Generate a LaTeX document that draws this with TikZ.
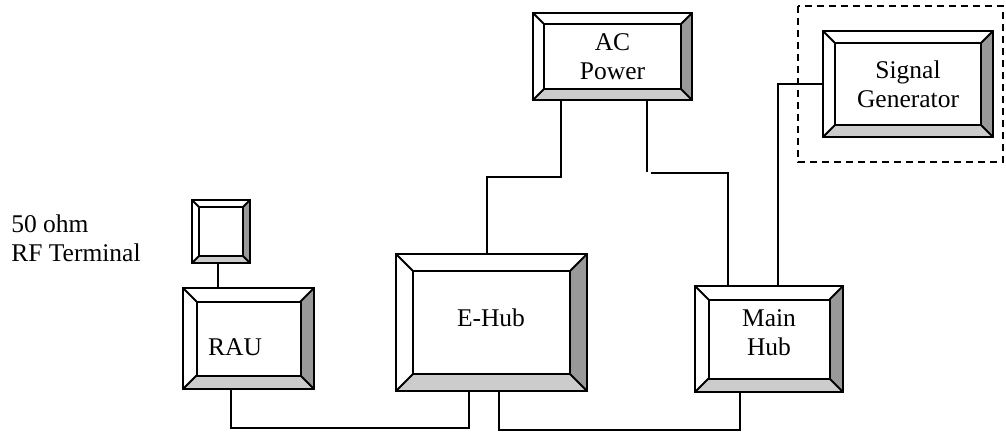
\documentclass[tikz,border=0pt]{standalone}
\usepackage{fontspec}
\setmainfont{Liberation Serif}
\usetikzlibrary{calc}

\definecolor{bevdark}{gray}{0.6}
\definecolor{bevlight}{gray}{0.8}

\tikzset{
	bevel/.store in=\bevelsz,
	bevel=12pt,
	bevelbox/.style={draw, line width=2pt, inner sep=0pt, outer sep=0pt,
		align=center,
		path picture={
			\path (path picture bounding box.north west) coordinate (bnw)
			      (path picture bounding box.north east) coordinate (bne)
			      (path picture bounding box.south east) coordinate (bse)
			      (path picture bounding box.south west) coordinate (bsw);
			\path ($(bnw)+(\bevelsz,-\bevelsz)$) coordinate (inw)
			      ($(bne)+(-\bevelsz,-\bevelsz)$) coordinate (ine)
			      ($(bse)+(-\bevelsz,\bevelsz)$) coordinate (ise)
			      ($(bsw)+(\bevelsz,\bevelsz)$) coordinate (isw);
			\fill[bevdark] (bne) -- (bse) -- (ise) -- (ine) -- cycle;
			\fill[bevlight] (bsw) -- (bse) -- (ise) -- (isw) -- cycle;
			\draw[line width=2pt] (inw) rectangle (ise);
			\draw[line width=2pt] (bnw) -- (inw) (bne) -- (ine)
			      (bse) -- (ise) (bsw) -- (isw);
		}}
}

\begin{document}
\begin{tikzpicture}[x=1pt, y=-1pt, line width=2pt,
	font=\fontsize{25.5}{29}\selectfont]
	\tikzstyle{frame}=[draw, dash pattern=on 7pt off 5pt, line width=1.8pt]
	\useasboundingbox (0,0) rectangle (1006,432);
	% % Nodes
	% terminal
	\node[bevelbox, bevel=7pt, minimum width=58pt, minimum height=63pt]
	(term) at (221,231.5) {};
	\node[anchor=west, align=left] (termtext) at (7,238)
	{50 ohm\\RF Terminal};
	% remote antenna unit
	\node[bevelbox, bevel=13.5pt, minimum width=131pt, minimum height=101pt]
	(rau) at (248.5,338.5) {};
	\node (rautext) at (235,347) {RAU};
	% expansion hub
	\node[bevelbox, bevel=17pt, minimum width=191pt, minimum height=137pt]
	(ehub) at (491.5,322.5) {};
	\node (ehubtext) at (491,318) {E-Hub};
	% power supply
	\node[bevelbox, bevel=11pt, minimum width=159pt, minimum height=87pt]
	(ac) at (612.5,56.5) {AC\\Power};
	% main hub
	\node[bevelbox, bevel=13.5pt, minimum width=148pt, minimum height=106pt]
	(mhub) at (769,339) {};
	\node[align=center] (mhubtext) at (769,333) {Main\\Hub};
	% signal generator
	\node[bevelbox, bevel=12pt, minimum width=170pt, minimum height=106pt]
	(sg) at (908,84) {Signal\\Generator};
	\draw[frame] (798,6) rectangle (1003,162);
	% % Connectors
	\draw ([xshift=-3pt]term.south) -- ([xshift=-3pt]term.south |- rau.north);
	\draw ([xshift=-17.5pt]rau.south) -- ++(0,39) -| ([xshift=-22.5pt]ehub.south);
	\draw ([xshift=7.5pt]ehub.south) -- ++(0,38.5) -| ([xshift=-29pt]mhub.south);
	\draw ([xshift=-51.5pt]ac.south) -- ++(0,77) -| ([xshift=-5pt]ehub.north);
	\draw ([xshift=34pt]ac.south) -- ++(0,72) coordinate (acbend);
	\coordinate (acjog) at ($(acbend)+(4pt,-1pt)$);
	\draw (acjog) -| ([xshift=-41pt]mhub.north);
	\draw (sg.west) -| ([xshift=9pt]mhub.north);
\end{tikzpicture}
\end{document}
